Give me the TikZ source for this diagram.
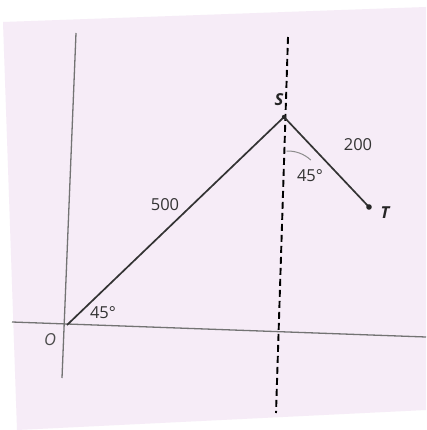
\documentclass[tikz,border=0pt]{standalone}
\usepackage{fontspec}
\setmainfont{Open Sans}
\begin{document}
\begin{tikzpicture}[x=1pt,y=-1pt,
  axis/.style={draw=black!55,line width=1.3pt},
  seg/.style={draw=black!80,line width=1.7pt},
  dashline/.style={draw=black,line width=1.9pt,dash pattern=on 7pt off 4pt},
  lbl/.style={text=black!80,font=\fontsize{16.5}{16.5}\selectfont,inner sep=0pt},
  pt/.style={font=\fontsize{16.5}{16.5}\selectfont\bfseries\itshape,text=black!85,inner sep=0pt}]
\definecolor{paper}{HTML}{F6ECF7}
\useasboundingbox (0,0) rectangle (426,430);
\fill[white] (0,0) rectangle (426,430);
\fill[paper] (3,22) -- (426,7) -- (426,410) -- (17,430) -- cycle;
% axes
\coordinate (xl) at (12,322);
\coordinate (xr) at (426,337);
\coordinate (yt) at (76,33);
\coordinate (yb) at (62,378);
\draw[axis] (xl) -- (xr);
\draw[axis] (yt) -- (yb);
% dashed line
\coordinate (dt) at (288,37);
\coordinate (db) at (276,413);
\draw[dashline] (dt) -- (db);
% points
\coordinate (O) at (67,325);
\coordinate (S) at (284,117);
\coordinate (T) at (369,207);
\draw[seg] (O) -- (S) -- (T);
\fill[black!85] (S) circle (2.2pt);
\fill[black!85] (T) circle (2.8pt);
% arc at S
\draw[black!45,line width=1pt] (286.5,151) arc[start angle=268,end angle=313,radius=34];
% labels
\node[pt] (Sl) at (279,100) {S};
\node[pt] (Tl) at (385,213) {T};
\node[pt,font=\fontsize{16.5}{16.5}\selectfont\itshape,text=black!70] (Ol) at (50,340) {O};
\node[lbl] (l500) at (165,205) {500};
\node[lbl] (l200) at (358,145) {200};
\node[lbl] (a1) at (310,176) {45°};
\node[lbl] (a2) at (103,313) {45°};
\end{tikzpicture}
\end{document}
